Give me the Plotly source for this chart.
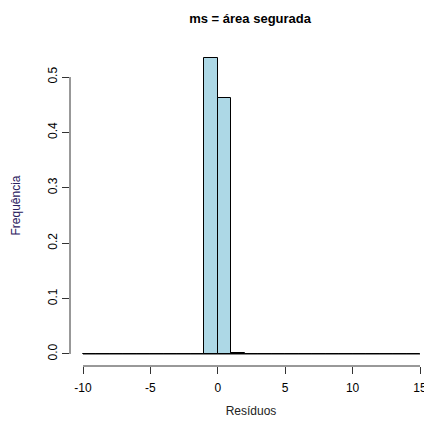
import plotly.graph_objects as go

# Histogram data (density per unit-width bin)
breaks = list(range(-10, 16))
densities = [0]*9 + [0.535, 0.463, 0.002] + [0]*13
x_ticks = [-10, -5, 0, 5, 10, 15]
y_ticks = [0.0, 0.1, 0.2, 0.3, 0.4, 0.5]
y_tick_labels = ["0.0", "0.1", "0.2", "0.3", "0.4", "0.5"]

centers = [(breaks[i] + breaks[i+1]) / 2 for i in range(len(breaks) - 1)]
widths = [breaks[i+1] - breaks[i] for i in range(len(breaks) - 1)]

fig = go.Figure()
# zero-height bins drawn as flat border segments (R style)
fig.add_trace(go.Scatter(x=[breaks[0], breaks[-1]], y=[0, 0], mode="lines",
                         line=dict(color="black", width=1), hoverinfo="skip"))
fig.add_trace(go.Bar(x=centers, y=densities, width=widths,
                     marker=dict(color="#ADD8E6", line=dict(color="black", width=1))))

font = "Liberation Sans, Arial, sans-serif"
fig.update_layout(
    width=424, height=418,
    paper_bgcolor="white", plot_bgcolor="white",
    showlegend=False, bargap=0,
    margin=dict(l=62, r=0, t=37, b=60, autoexpand=False),
    title=dict(text="<b>ms = área segurada</b>", x=0.571, xanchor="center",
               y=0.976, yanchor="middle", font=dict(family=font, size=13, color="black")),
    xaxis=dict(range=[-10.964, 15.89], tickvals=x_ticks, ticktext=[str(v) for v in x_ticks],
               showgrid=False, zeroline=False, showline=False, automargin=False,
               ticks="outside", ticklen=7, tickcolor="#333", tickwidth=1, ticklabelstandoff=4,
               tickfont=dict(family=font, size=12, color="black"),
               title=dict(text="Resíduos", font=dict(family=font, size=12, color="#222"), standoff=12)),
    yaxis=dict(range=[-0.0217, 0.5578], tickvals=y_ticks, ticktext=y_tick_labels,
               showgrid=False, zeroline=False, showline=False, automargin=False,
               ticks="outside", ticklen=7, tickcolor="#333", tickwidth=1, tickangle=-90,
               tickfont=dict(family=font, size=12, color="black"),
               title=dict(text="Frequência", font=dict(family=font, size=12, color="#2a2060"), standoff=23)),
)
# R-style detached axis lines spanning the tick range
fig.add_shape(type="line", xref="x", yref="paper", x0=min(x_ticks), x1=max(x_ticks), y0=0, y1=0,
              line=dict(color="#333", width=1))
fig.add_shape(type="line", xref="paper", yref="y", x0=0, x1=0, y0=min(y_ticks), y1=max(y_ticks),
              line=dict(color="#333", width=1))

fig.write_html("out.html")
